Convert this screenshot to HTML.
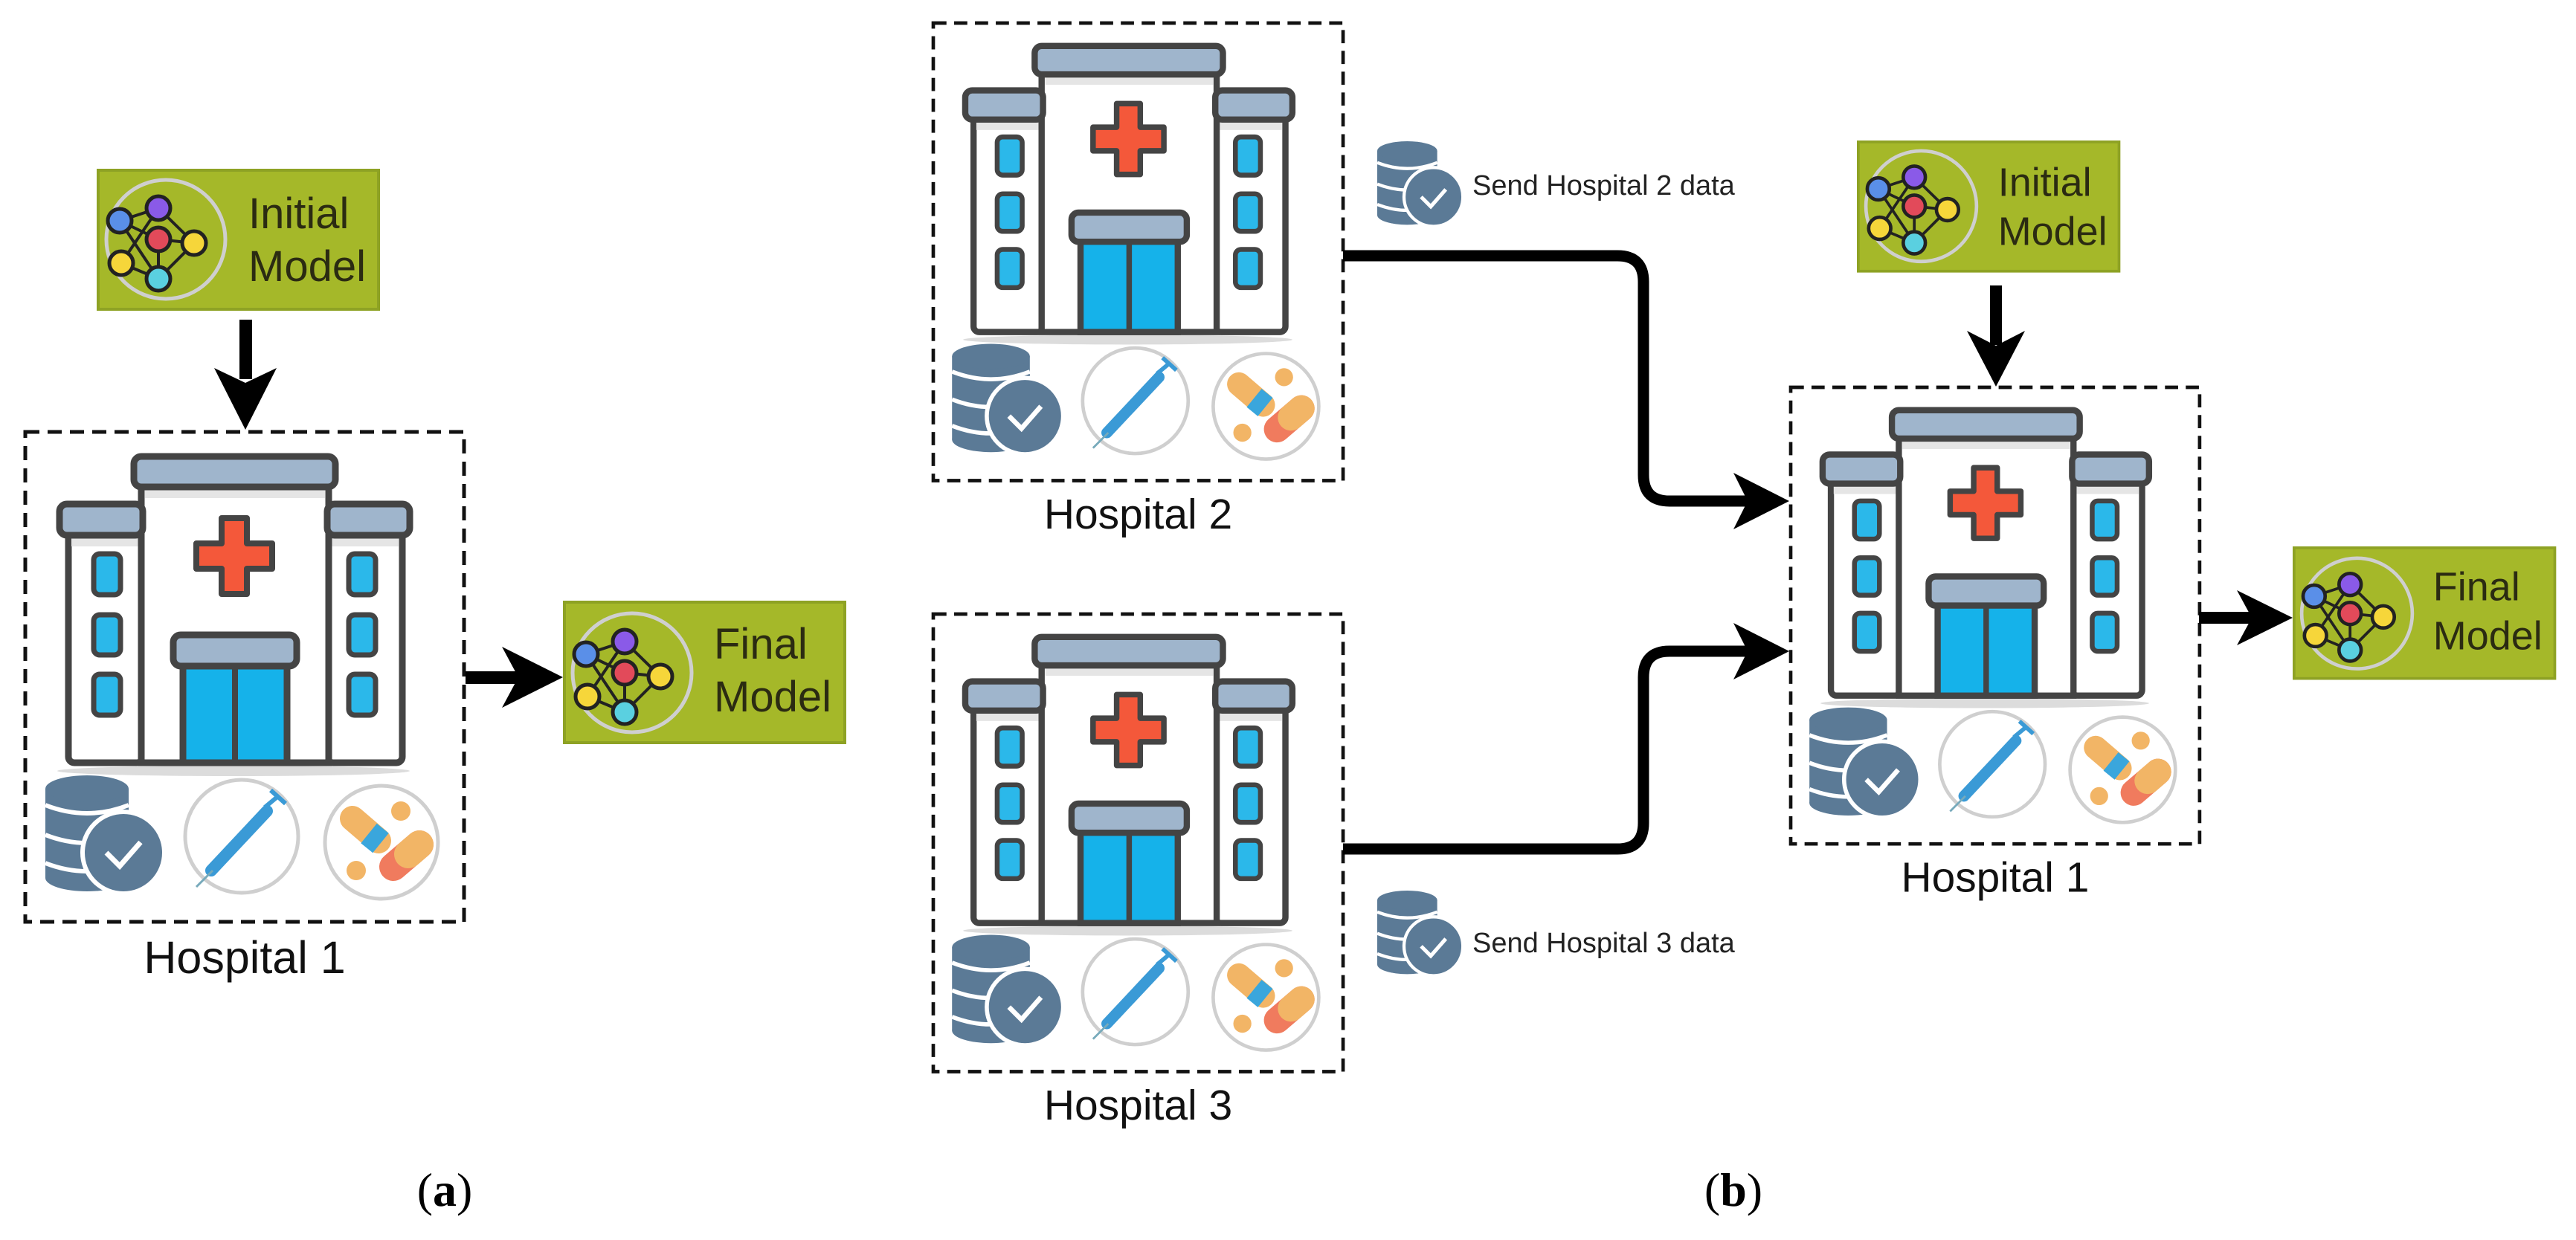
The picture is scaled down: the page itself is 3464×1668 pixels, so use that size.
<!DOCTYPE html>
<html><head><meta charset="utf-8"><style>
html,body{margin:0;padding:0;background:#fff;}
svg{display:block;}
</style></head><body>
<svg width="3464" height="1668" viewBox="0 0 3464 1668" xmlns="http://www.w3.org/2000/svg" font-family="'Liberation Sans', sans-serif">
<defs>
  <g id="db">
    <rect x="0" y="18" width="112" height="120" fill="#5b7a96"/>
    <ellipse cx="56" cy="18" rx="56" ry="18" fill="#5b7a96"/>
    <ellipse cx="56" cy="138" rx="56" ry="18" fill="#5b7a96"/>
    <path d="M0,40 Q56,62 112,40" stroke="#fff" stroke-width="6" fill="none"/>
    <path d="M0,80 Q56,102 112,80" stroke="#fff" stroke-width="6" fill="none"/>
    <path d="M0,118 Q56,140 112,118" stroke="#fff" stroke-width="6" fill="none"/>
    <circle cx="105" cy="104" r="55" fill="#5b7a96" stroke="#fff" stroke-width="6"/>
    <polyline points="82,104 100,122 128,90" fill="none" stroke="#fff" stroke-width="7"/>
  </g>
  <g id="hosp">
    <ellipse cx="280" cy="456" rx="237" ry="7" fill="#dcdcdc"/>
    <rect x="58" y="135" width="100" height="310" rx="8" fill="#fff" stroke="#444" stroke-width="9"/>
    <rect x="406" y="135" width="101" height="310" rx="8" fill="#fff" stroke="#444" stroke-width="9"/>
    <rect x="62" y="140" width="92" height="14" fill="#e5e5e5"/>
    <rect x="410" y="140" width="92" height="14" fill="#e5e5e5"/>
    <rect x="156" y="70" width="252" height="375" fill="#fff" stroke="#444" stroke-width="9"/>
    <rect x="161" y="75" width="242" height="14" fill="#e5e5e5"/>
    <rect x="146" y="33" width="271" height="41" rx="10" fill="#9fb5cc" stroke="#444" stroke-width="9"/>
    <rect x="46" y="97" width="112" height="42" rx="10" fill="#9fb5cc" stroke="#444" stroke-width="9"/>
    <rect x="406" y="97" width="111" height="42" rx="10" fill="#9fb5cc" stroke="#444" stroke-width="9"/>
    <g fill="#2bb8ea" stroke="#444" stroke-width="7">
      <rect x="92" y="164" width="36" height="55" rx="8"/>
      <rect x="92" y="246" width="36" height="54" rx="8"/>
      <rect x="92" y="326" width="36" height="55" rx="8"/>
      <rect x="435" y="164" width="36" height="55" rx="8"/>
      <rect x="435" y="246" width="36" height="54" rx="8"/>
      <rect x="435" y="326" width="36" height="55" rx="8"/>
    </g>
    <path d="M264,116 h34 v34 h34 v34 h-34 v34 h-34 v-34 h-34 v-34 h34 z" fill="#f4583a" stroke="#444" stroke-width="8" stroke-linejoin="round"/>
    <rect x="212" y="312" width="140" height="133" fill="#15b2ea" stroke="#444" stroke-width="9"/>
    <line x1="282" y1="312" x2="282" y2="445" stroke="#444" stroke-width="8"/>
    <rect x="199" y="273" width="166" height="42" rx="10" fill="#9fb5cc" stroke="#444" stroke-width="9"/>
    <use href="#db" x="27" y="462"/>
    <circle cx="291" cy="544" r="76" fill="#fff" stroke="#cfcfcf" stroke-width="5"/>
    <line x1="250" y1="590" x2="325" y2="510" stroke="#3a9ad6" stroke-width="16" stroke-linecap="round"/>
    <line x1="322" y1="505" x2="340" y2="490" stroke="#3a9ad6" stroke-width="6"/>
    <line x1="330" y1="482" x2="350" y2="500" stroke="#3a9ad6" stroke-width="6"/>
    <line x1="252" y1="590" x2="230" y2="612" stroke="#7ab" stroke-width="3"/>
    <circle cx="479" cy="552" r="76" fill="#fff" stroke="#cfcfcf" stroke-width="5"/>
    <line x1="440" y1="520" x2="475" y2="550" stroke="#f2b566" stroke-width="34" stroke-linecap="round"/>
    <line x1="462" y1="540" x2="478" y2="553" stroke="#3aa6dc" stroke-width="34" stroke-linecap="butt"/>
    <line x1="495" y1="585" x2="530" y2="555" stroke="#f07b5e" stroke-width="38" stroke-linecap="round"/>
    <line x1="515" y1="568" x2="530" y2="555" stroke="#f2b566" stroke-width="38" stroke-linecap="round"/>
    <circle cx="505" cy="510" r="13" fill="#f2b566"/>
    <circle cx="445" cy="590" r="13" fill="#f2b566"/>
    <rect x="0" y="0" width="590" height="659" fill="none" stroke="#111" stroke-width="5" stroke-dasharray="19 11"/>
  </g>
  <g id="net">
    <circle cx="93" cy="95" r="80" fill="none" stroke="#cfcfcf" stroke-width="5"/>
    <g stroke="#222" stroke-width="4">
      <line x1="31" y1="70" x2="83" y2="53"/><line x1="31" y1="70" x2="83" y2="148"/>
      <line x1="83" y1="53" x2="131" y2="100"/><line x1="83" y1="53" x2="33" y2="127"/>
      <line x1="83" y1="95" x2="131" y2="100"/><line x1="83" y1="95" x2="83" y2="148"/>
      <line x1="131" y1="100" x2="83" y2="148"/><line x1="33" y1="127" x2="83" y2="148"/>
      <line x1="31" y1="70" x2="83" y2="95"/>
    </g>
    <g stroke="#222" stroke-width="5">
      <circle cx="31" cy="70" r="16" fill="#5a8fe8"/>
      <circle cx="83" cy="53" r="16" fill="#8a5ae8"/>
      <circle cx="83" cy="95" r="16" fill="#e24a5a"/>
      <circle cx="131" cy="100" r="16" fill="#f6d63a"/>
      <circle cx="33" cy="127" r="16" fill="#f6d63a"/>
      <circle cx="83" cy="148" r="16" fill="#5ad0e0"/>
    </g>
  </g>
</defs>

<!-- (a) -->
<g transform="translate(130,227)">
  <rect x="2" y="2" width="377" height="187" fill="#a5b829" stroke="#8ea224" stroke-width="4"/>
  <use href="#net"/>
  <text x="204" y="80" font-size="58" fill="#2b2b12">Initial</text>
  <text x="204" y="151" font-size="58" fill="#2b2b12">Model</text>
</g>
<rect x="322" y="430" width="17" height="80" fill="#000"/>
<polygon points="330,578 288,495 330,515 372,495" fill="#000"/>
<g transform="translate(34,581)"><use href="#hosp"/><text x="295" y="728" font-size="61" text-anchor="middle" fill="#111">Hospital 1</text></g>
<rect x="626" y="903" width="80" height="17" fill="#000"/>
<polygon points="757,911 675,870 697,911 675,952" fill="#000"/>
<g transform="translate(757,808)">
  <rect x="2" y="2" width="377" height="189" fill="#a5b829" stroke="#8ea224" stroke-width="4"/>
  <use href="#net" transform="translate(0,2)"/>
  <text x="203" y="78" font-size="58" fill="#2b2b12">Final</text>
  <text x="203" y="149" font-size="58" fill="#2b2b12">Model</text>
</g>

<!-- (b) -->
<g transform="translate(1255,31) scale(0.934)"><use href="#hosp"/><text x="295" y="728" font-size="61" text-anchor="middle" fill="#111">Hospital 2</text></g>
<g transform="translate(1255,826) scale(0.934)"><use href="#hosp"/><text x="295" y="728" font-size="61" text-anchor="middle" fill="#111">Hospital 3</text></g>

<g transform="translate(1852,190) scale(0.72)"><use href="#db"/></g>
<text x="1980" y="262" font-size="38" fill="#222">Send Hospital 2 data</text>
<g transform="translate(1852,1198) scale(0.72)"><use href="#db"/></g>
<text x="1980" y="1281" font-size="38" fill="#222">Send Hospital 3 data</text>

<path d="M1806,344 H2175 Q2210,344 2210,379 V639 Q2210,674 2245,674 H2350" fill="none" stroke="#000" stroke-width="15"/>
<polygon points="2406,674 2331,636 2350,674 2331,712" fill="#000"/>
<path d="M1806,1142 H2175 Q2210,1142 2210,1107 V911 Q2210,876 2245,876 H2350" fill="none" stroke="#000" stroke-width="15"/>
<polygon points="2406,876 2331,838 2350,876 2331,914" fill="#000"/>

<g transform="translate(2497,189) scale(0.93)">
  <rect x="2" y="2" width="377" height="187" fill="#a5b829" stroke="#8ea224" stroke-width="4"/>
  <use href="#net"/>
  <text x="204" y="80" font-size="58" fill="#2b2b12">Initial</text>
  <text x="204" y="151" font-size="58" fill="#2b2b12">Model</text>
</g>
<rect x="2676" y="384" width="16" height="80" fill="#000"/>
<polygon points="2684,520 2645,445 2684,465 2723,445" fill="#000"/>

<g transform="translate(2408,521) scale(0.932)"><use href="#hosp"/><text x="295" y="728" font-size="61" text-anchor="middle" fill="#111">Hospital 1</text></g>

<rect x="2957" y="823" width="72" height="16" fill="#000"/>
<polygon points="3083,831 3008,794 3028,831 3008,868" fill="#000"/>
<g transform="translate(3083,735) scale(0.93)">
  <rect x="2" y="2" width="377" height="189" fill="#a5b829" stroke="#8ea224" stroke-width="4"/>
  <use href="#net" transform="translate(0,2)"/>
  <text x="203" y="78" font-size="58" fill="#2b2b12">Final</text>
  <text x="203" y="149" font-size="58" fill="#2b2b12">Model</text>
</g>

<text x="598" y="1622" font-size="64" text-anchor="middle" font-family="'Liberation Serif', serif" fill="#000">(<tspan font-weight="bold">a</tspan>)</text>
<text x="2331" y="1622" font-size="64" text-anchor="middle" font-family="'Liberation Serif', serif" fill="#000">(<tspan font-weight="bold">b</tspan>)</text>
</svg>
</body></html>
